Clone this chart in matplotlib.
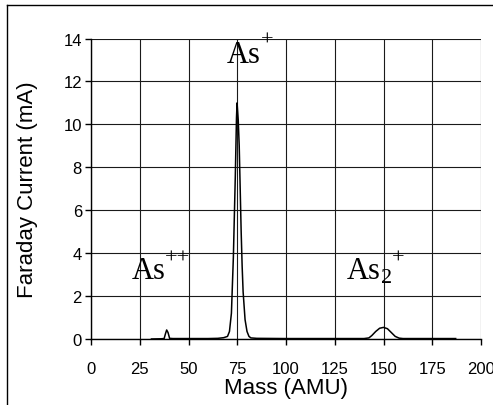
import numpy as np
import matplotlib
matplotlib.use("Agg")
import matplotlib.pyplot as plt
from matplotlib.lines import Line2D

# mass spectrum
mass = [31, 36, 37.5, 38.2, 38.8, 39.5, 40.3, 42, 50, 60, 65, 68, 70, 71, 72, 73, 74,
        74.6, 74.9, 75.2, 75.5, 76, 76.5, 77, 77.5, 78, 79, 80, 81, 82, 85, 100, 120,
        140, 142.5, 144, 146, 148, 150, 152, 154, 156, 158, 160, 187]
current = [0.0, 0.01, 0.02, 0.25, 0.42, 0.3, 0.03, 0.02, 0.02, 0.02, 0.03, 0.06, 0.12,
           0.35, 1.2, 3.8, 7.6, 10.3, 11.0, 10.6, 10.2, 9.0, 7.0, 5.0, 3.4, 2.2, 0.9, 0.35,
           0.12, 0.05, 0.03, 0.02, 0.02, 0.02, 0.05, 0.16, 0.35, 0.5, 0.54, 0.48, 0.3,
           0.12, 0.04, 0.02, 0.02]

xticks = [0, 25, 50, 75, 100, 125, 150, 175, 200]
yticks = [0, 2, 4, 6, 8, 10, 12, 14]

serif = "Liberation Serif"
sans = "Liberation Sans"

fig = plt.figure(figsize=(4.93, 4.06), dpi=100)
ax = fig.add_axes([0.1846, 0.1626, 0.7911, 0.7401])

ax.plot(mass, current, color="k", lw=1.1)

ax.set_xlim(0, 200)
ax.set_ylim(0, 14)
ax.set_xticks(xticks)
ax.set_yticks(yticks)
ax.grid(True, color="#1a1a1a", lw=0.8)
ax.set_axisbelow(True)
for s in ["top", "right"]:
    ax.spines[s].set_visible(False)
for s in ["left", "bottom"]:
    ax.spines[s].set_color("k")
    ax.spines[s].set_linewidth(1.0)
ax.tick_params(axis="x", direction="out", length=4.5, width=1.0, pad=11, labelsize=12)
ax.tick_params(axis="y", direction="out", length=4.5, width=1.0, pad=2, labelsize=12)
for lab in ax.get_xticklabels() + ax.get_yticklabels():
    lab.set_fontfamily(sans)

ax.set_xlabel("Mass (AMU)", fontsize=16, fontfamily=sans)
ax.set_ylabel("Faraday Current (mA)", fontsize=16, fontfamily=sans)
ax.xaxis.set_label_coords(0.5, -0.126)
ax.yaxis.set_label_coords(-0.135, 0.5)

# peak labels
big = 22
small = 16
ax.text(69.7, 12.9, "As", fontsize=big, fontfamily=serif, ha="left", va="baseline")
ax.text(90.3, 13.93, "+", fontsize=small, fontfamily=serif, ha="center", va="center")
ax.text(20.9, 2.84, "As", fontsize=big, fontfamily=serif, ha="left", va="baseline")
ax.text(44.1, 3.77, "++", fontsize=small, fontfamily=serif, ha="center", va="center")
ax.text(131.1, 2.84, "As", fontsize=big, fontfamily=serif, ha="left", va="baseline")
ax.text(151.6, 2.87, "2", fontsize=small, fontfamily=serif, ha="center", va="center")
ax.text(157.4, 3.77, "+", fontsize=small, fontfamily=serif, ha="center", va="center")

# outer frame (left and top edges visible)
fig.add_artist(Line2D([0.0152, 0.0152], [0.9845, -0.1], transform=fig.transFigure,
                      color="k", lw=1.0))
fig.add_artist(Line2D([0.0152, 1.1], [0.9845, 0.9845], transform=fig.transFigure,
                      color="k", lw=1.0))

fig.savefig("out.png", dpi=100)
